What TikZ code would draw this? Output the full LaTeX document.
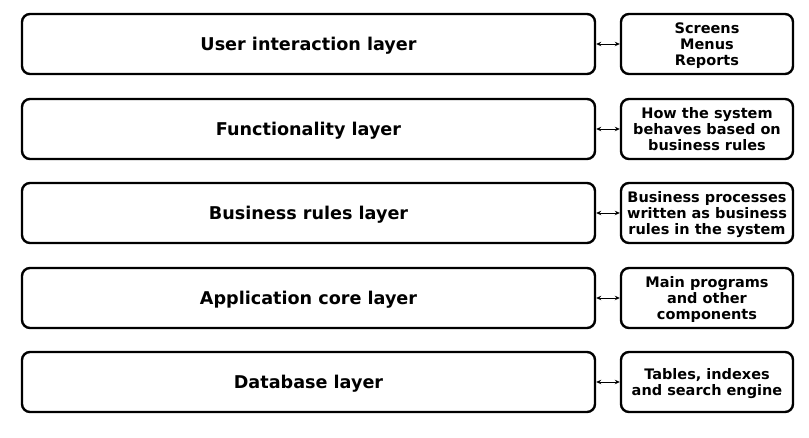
\documentclass[tikz,border=0pt]{standalone}
\usepackage{fontspec}
\setmainfont{DejaVu Sans}
\usepackage{tikz}
\usetikzlibrary{arrows.meta, positioning}

\begin{document}
\begin{tikzpicture}[x=1pt, y=-1pt,
  layer/.style={draw=black, fill=white, rounded corners=8pt, line width=2.4pt,
                minimum width=573pt, minimum height=60pt, text depth=0pt,
                font=\bfseries\fontsize{17.6}{20}\selectfont},
  note/.style={draw=black, fill=white, rounded corners=8pt, line width=2.4pt,
               minimum width=172pt, minimum height=60pt, align=center,
               inner sep=1pt, text depth=0pt,
               font=\bfseries\fontsize{14.5}{16}\selectfont},
  link/.style={{Stealth[length=5pt,width=4.5pt]}-{Stealth[length=5pt,width=4.5pt]}, line width=0.8pt}
]
\useasboundingbox (0,0) rectangle (809,438);

% Layers
\node[layer] (ui)   at (308.5, 44)  {User interaction layer};
\node[layer] (func) at (308.5, 129) {Functionality layer};
\node[layer] (rules) at (308.5, 213) {Business rules layer};
\node[layer] (core) at (308.5, 298) {Application core layer};
\node[layer] (db)   at (308.5, 382) {Database layer};

% Descriptions
\node[note] (uinote)   at (707, 44)  {Screens\\Menus\\Reports};
\node[note] (funcnote) at (707, 129) {How the system\\behaves based on\\business rules};
\node[note] (rulesnote) at (707, 213) {Business processes\\written as business\\rules in the system};
\node[note] (corenote) at (707, 298) {Main programs\\and other\\components};
\node[note] (dbnote)   at (707, 382) {Tables, indexes\\and search engine};

% Links
\draw[link] (ui.east) -- (uinote.west);
\draw[link] (func.east) -- (funcnote.west);
\draw[link] (rules.east) -- (rulesnote.west);
\draw[link] (core.east) -- (corenote.west);
\draw[link] (db.east) -- (dbnote.west);

\end{tikzpicture}
\end{document}
